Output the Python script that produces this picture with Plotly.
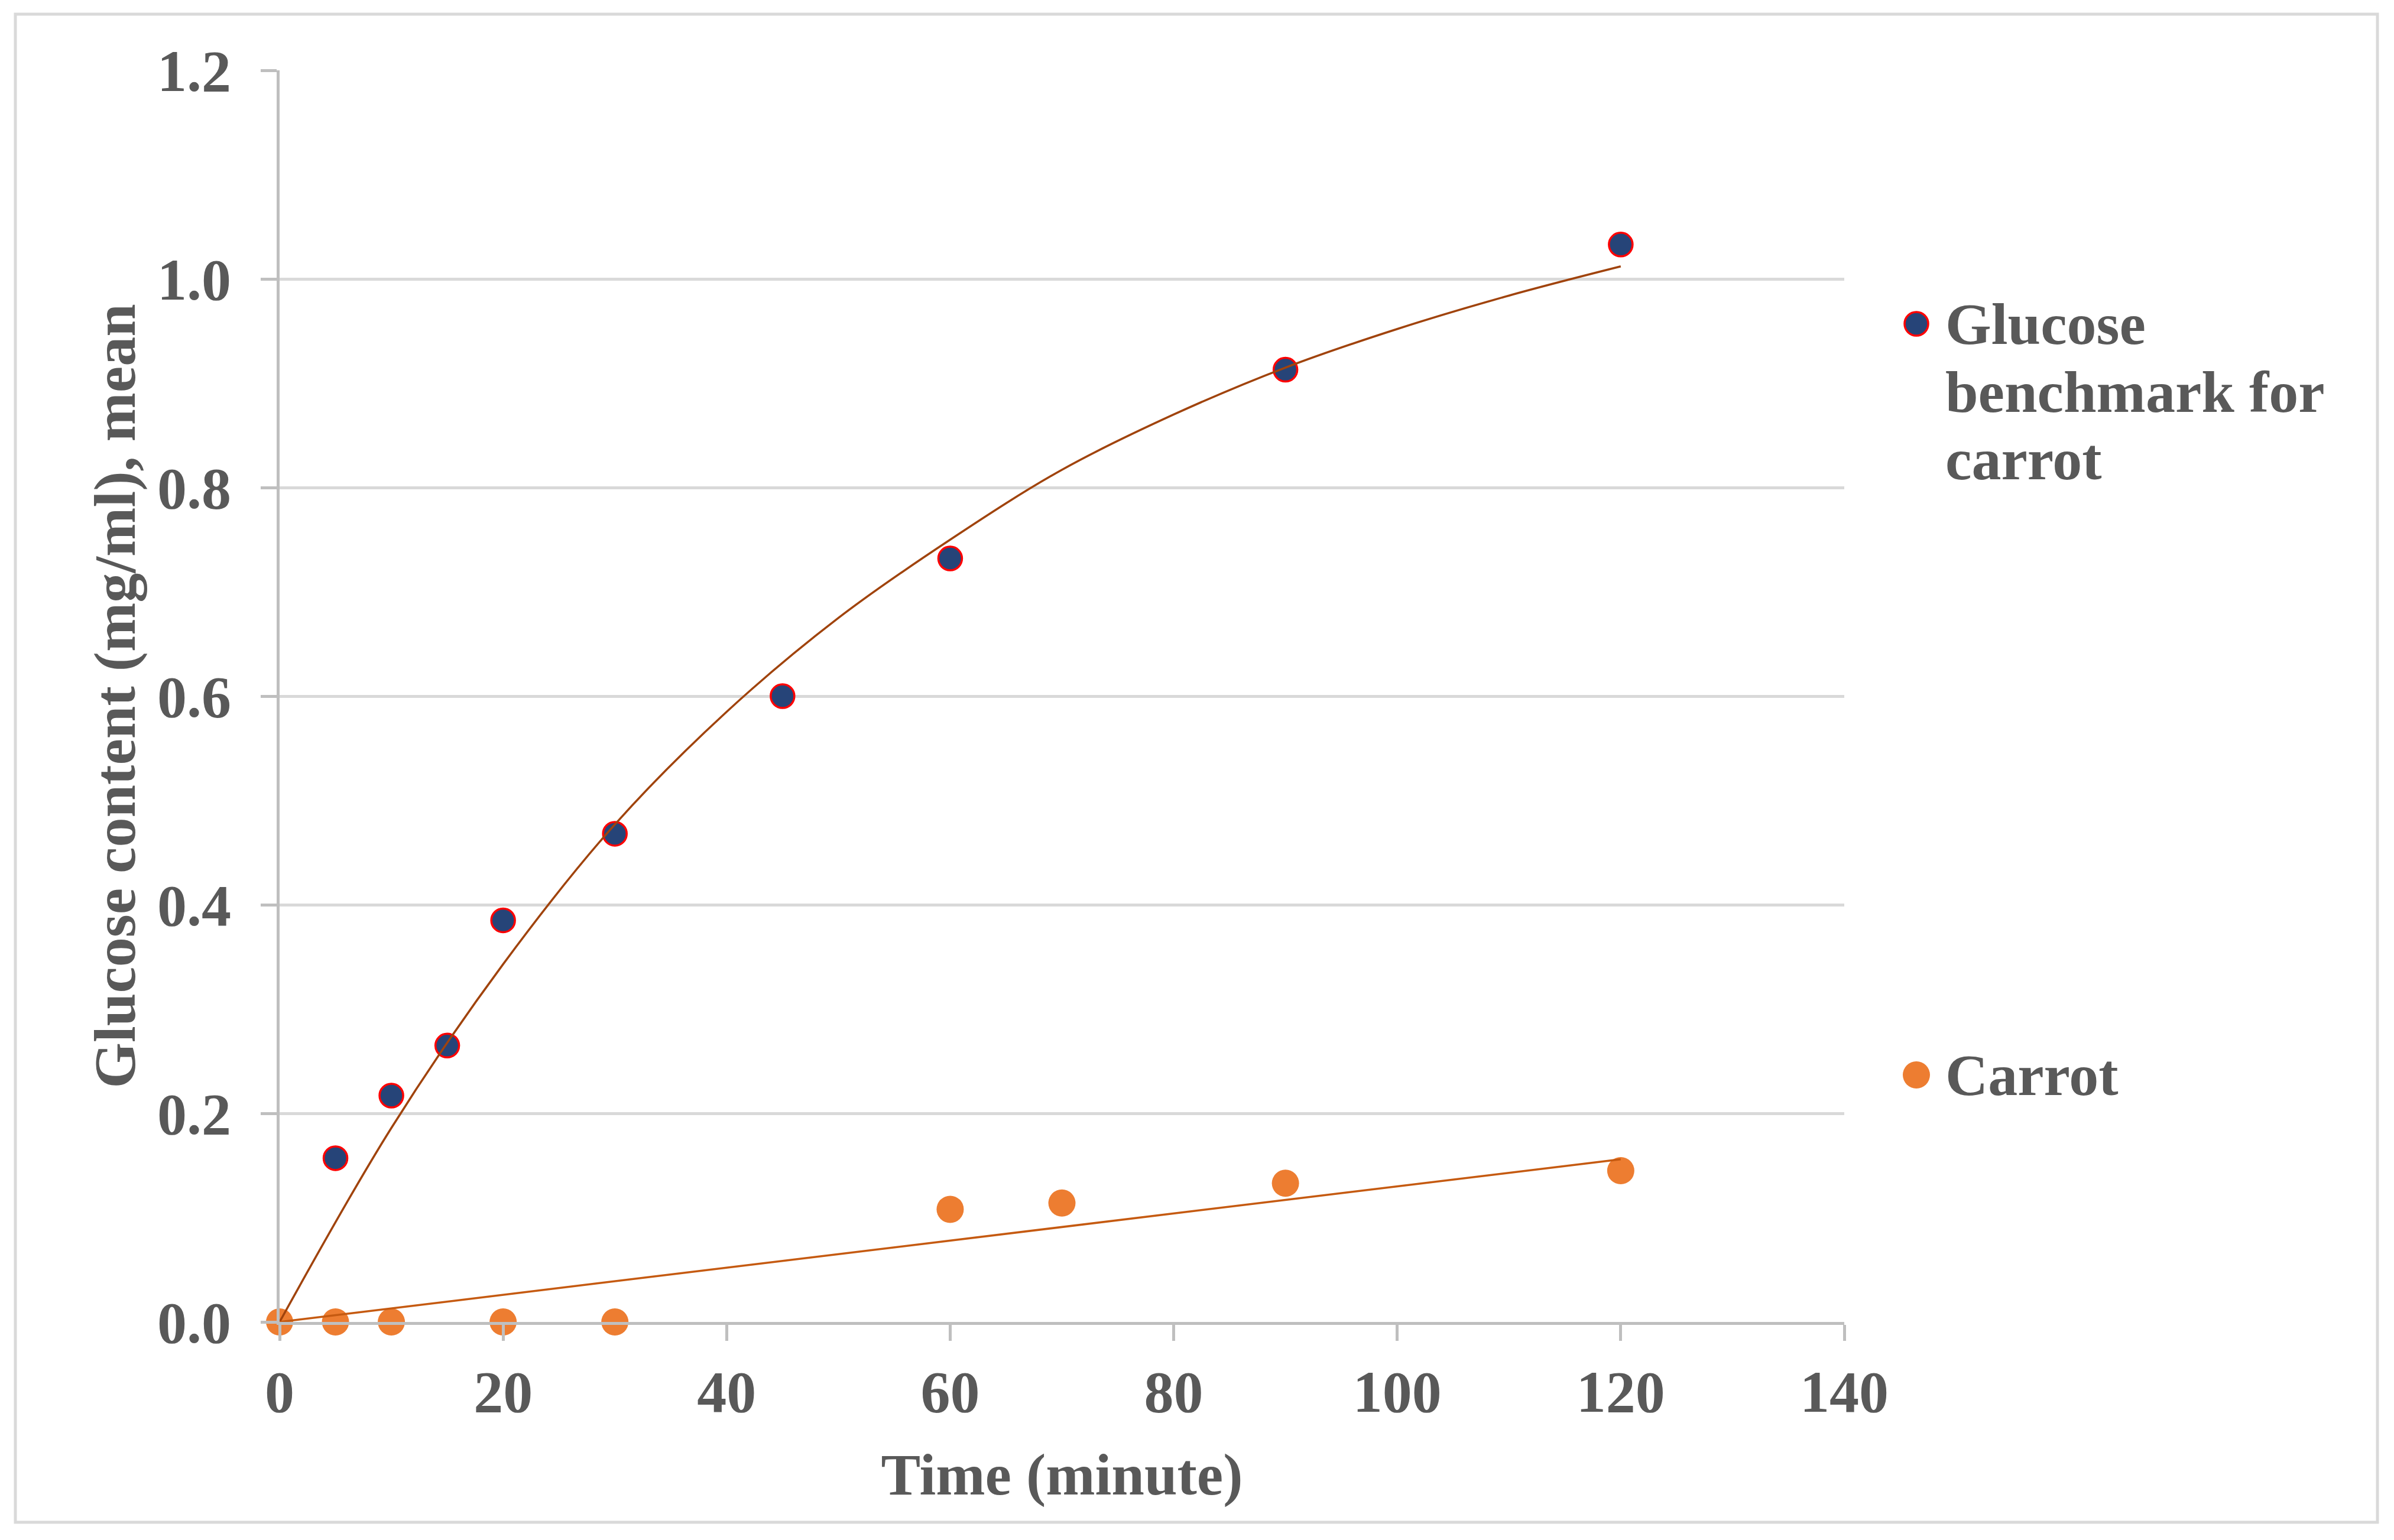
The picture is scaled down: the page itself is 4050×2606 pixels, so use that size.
import plotly.graph_objects as go

# ---- data ----
time_glucose = [0, 5, 10, 15, 20, 30, 45, 60, 90, 120]
glucose_benchmark = [0.0, 0.157, 0.217, 0.265, 0.385, 0.468, 0.600, 0.732, 0.913, 1.033]
time_carrot = [0, 5, 10, 20, 30, 60, 70, 90, 120]
carrot = [0.0, 0.0, 0.0, 0.0, 0.0, 0.108, 0.114, 0.133, 0.145]

# trendlines as drawn in the reference
trend_glucose_x = [0, 10, 20, 30, 40, 50, 60, 70, 80, 90, 100, 110, 120]
trend_glucose_y = [0.0, 0.186, 0.343, 0.477, 0.585, 0.675, 0.750, 0.817, 0.870,
                   0.915, 0.952, 0.984, 1.012]
trend_carrot_x = [0, 120]
trend_carrot_y = [0.0, 0.156]

x_ticks = [0, 20, 40, 60, 80, 100, 120, 140]
y_ticks = [0.0, 0.2, 0.4, 0.6, 0.8, 1.0, 1.2]
legend_lines_glucose = ["Glucose", "benchmark for", "carrot"]
legend_label_carrot = "Carrot"

FONT = "Liberation Serif"
TXT = "#595959"
BLUE = "#264478"
RED = "#ff0000"
ORANGE = "#ed7d31"

# layout geometry (pixels)
W, H = 4050, 2606
PL, PR, PT, PB = 473, 3120, 119, 2237   # plot area edges as seen on the page
BODY = 8                                 # default page margin of the html body
PW, PH = PR - PL, PB - PT
def px(x):
    return (x - PL) / PW
def py(y):
    return (PB - y) / PH

fig = go.Figure()
fig.add_trace(go.Scatter(
    x=time_glucose, y=glucose_benchmark, mode="markers",
    name="Glucose benchmark for carrot", showlegend=False,
    marker=dict(size=40, color=BLUE, line=dict(color=RED, width=3.5)),
    cliponaxis=False))
fig.add_trace(go.Scatter(
    x=time_carrot, y=carrot, mode="markers", name="Carrot", showlegend=False,
    marker=dict(size=46, color=ORANGE, line=dict(width=0)),
    cliponaxis=False))
fig.add_trace(go.Scatter(
    x=trend_glucose_x, y=trend_glucose_y, mode="lines", showlegend=False,
    name="Trend (glucose benchmark)", hoverinfo="skip",
    line=dict(color="#a0430c", width=3.5, shape="spline", smoothing=1.0), cliponaxis=False))
fig.add_trace(go.Scatter(
    x=trend_carrot_x, y=trend_carrot_y, mode="lines", showlegend=False,
    name="Trend (carrot)", hoverinfo="skip",
    line=dict(color="#c55a11", width=3.5), cliponaxis=False))

tfont = dict(family=FONT, size=100, color=TXT, weight="bold")

# legend (text as annotations, keys as circles)
annotations = []
for txt, yy in zip(legend_lines_glucose, [548, 663, 778]):
    annotations.append(dict(text=txt, xref="paper", yref="paper", x=px(3289), y=py(yy),
                            xanchor="left", yanchor="middle", showarrow=False, font=tfont))
annotations.append(dict(text=legend_label_carrot, xref="paper", yref="paper", x=px(3289), y=py(1819),
                        xanchor="left", yanchor="middle", showarrow=False, font=tfont))

def circle(cx, cy, r, fill, line_color=None, lw=0):
    return dict(type="circle", xref="paper", yref="paper",
                x0=px(cx - r), x1=px(cx + r), y0=py(cy + r), y1=py(cy - r),
                fillcolor=fill, line=dict(color=line_color or fill, width=lw), layer="above")

shapes = [
    dict(type="rect", xref="paper", yref="paper",
         x0=px(26), x1=px(4022), y0=py(2576), y1=py(24),
         line=dict(color="#d9d9d9", width=5), fillcolor="rgba(0,0,0,0)", layer="below"),
    circle(3242, 548, 20, BLUE, RED, 3.5),
    circle(3242, 1819, 23, ORANGE),
]

fig.update_layout(
    width=W, height=H,
    margin=dict(l=PL - BODY, r=W - PR + BODY, t=PT - BODY, b=H - PB + BODY, autoexpand=False),
    paper_bgcolor="white", plot_bgcolor="white",
    font=tfont,
    showlegend=False,
    xaxis=dict(
        range=[0, 140], tickvals=x_ticks, ticktext=[str(v) for v in x_ticks],
        showgrid=False, zeroline=False,
        showline=True, linecolor="#bfbfbf", linewidth=5,
        ticks="outside", ticklen=27, tickwidth=5, tickcolor="#bfbfbf",
        tickfont=tfont,
        title=dict(text="Time (minute)", standoff=50, font=tfont),
        automargin=False),
    yaxis=dict(
        range=[0, 1.2], tickvals=y_ticks, ticktext=[f"{v:.1f}" for v in y_ticks],
        showgrid=True, gridcolor="#d9d9d9", gridwidth=5, zeroline=False,
        showline=True, linecolor="#bfbfbf", linewidth=5,
        ticks="outside", ticklen=27, tickwidth=5, tickcolor="#bfbfbf",
        ticklabelstandoff=30,
        tickfont=tfont,
        title=dict(text="Glucose content (mg/ml), mean", standoff=6, font=tfont),
        automargin=False),
    annotations=annotations,
    shapes=shapes,
)

fig.write_html("out.html")
